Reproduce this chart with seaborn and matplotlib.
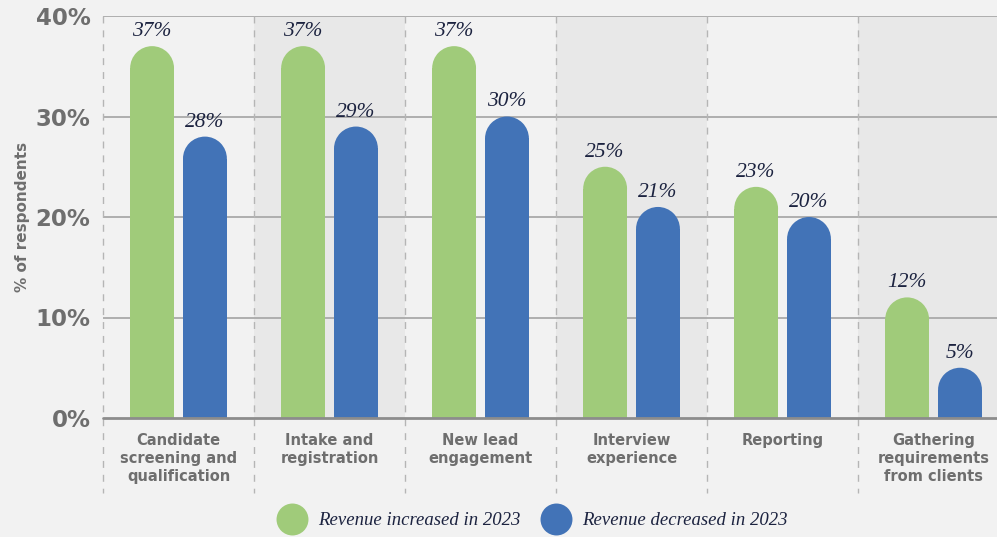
import matplotlib
matplotlib.use("Agg")
import matplotlib.pyplot as plt
import seaborn as sns
import pandas as pd
from matplotlib.patches import Ellipse
from matplotlib.lines import Line2D

categories = ["Candidate\nscreening and\nqualification", "Intake and\nregistration",
              "New lead\nengagement", "Interview\nexperience", "Reporting",
              "Gathering\nrequirements\nfrom clients"]
series_names = ["Revenue increased in 2023", "Revenue decreased in 2023"]
increased = [37, 37, 37, 25, 23, 12]
decreased = [28, 29, 30, 21, 20, 5]
y_ticks = [0, 10, 20, 30, 40]
y_tick_labels = ["0%", "10%", "20%", "30%", "40%"]

GREEN = "#a0cb7a"
BLUE = "#4273b7"
BG = "#f2f2f2"
BAND = "#e8e8e8"
GRAY_TXT = "#6e6e6e"
NAVY = "#1c2340"

df = pd.DataFrame({
    "category": categories * 2,
    "series": [series_names[0]] * len(categories) + [series_names[1]] * len(categories),
    "value": increased + decreased,
})

sns.set_theme(style="white")
plt.rcParams["font.family"] = ["DejaVu Sans"]

fig = plt.figure(figsize=(9.97, 5.37), dpi=100, facecolor=BG)
ax = fig.add_axes([103 / 997, 1 - 418 / 537, 894 / 997, 402 / 537])
ax.set_facecolor(BG)

ax.set_xlim(-0.5, 5.42)
ax.set_ylim(0, 40)

# shaded bands
for i in range(len(categories)):
    if i % 2 == 1:
        ax.axvspan(i - 0.5, i + 0.5, color=BAND, zorder=0, lw=0)

# gridlines
for t in y_ticks[1:]:
    ax.axhline(t, color="#a9a9a9", lw=1.3, zorder=1)
ax.axhline(0, color="#8c8c8c", lw=2.0, zorder=5, clip_on=False)

# dashed separators
for i in range(len(categories) + 1):
    ax.plot([i - 0.5, i - 0.5], [40, -7.5], color="#b5b5b5", lw=1.0,
            ls=(0, (5, 5)), zorder=1, clip_on=False)

sns.barplot(data=df, x="category", y="value", hue="series", order=categories,
            hue_order=series_names, palette=[GREEN, BLUE], width=0.7, gap=0.17,
            saturation=1, ax=ax, zorder=3, legend=False)
ax.set_xlim(-0.5, 5.42)
ax.set_ylim(0, 40)

# round the tops
fig.canvas.draw()
px_per_x = ax.transData.transform((1, 0))[0] - ax.transData.transform((0, 0))[0]
px_per_y = ax.transData.transform((0, 1))[1] - ax.transData.transform((0, 0))[1]
for cont, color in zip(ax.containers, [GREEN, BLUE]):
    for rect in cont:
        x = rect.get_x()
        w = rect.get_width()
        h = rect.get_height()
        ry = (w / 2) * px_per_x / px_per_y
        rect.set_height(h - ry)
        rect.set_linewidth(0)
        ax.add_patch(Ellipse((x + w / 2, h - ry), w, 2 * ry, facecolor=color,
                             edgecolor="none", zorder=3))
        ax.text(x + w / 2, h + 0.5, f"{int(round(h))}%", ha="center", va="bottom",
                fontsize=15.5, style="italic", family="Liberation Serif", color=NAVY,
                zorder=6)

ax.set_yticks(y_ticks)
ax.set_yticklabels(y_tick_labels, fontsize=16.5, fontweight="bold", color=GRAY_TXT)
ax.tick_params(axis="y", length=0, pad=9)
ax.set_xticks(range(len(categories)))
ax.set_xticklabels(categories, fontsize=10.5, fontweight="bold", color=GRAY_TXT,
                   linespacing=1.25, va="top")
ax.tick_params(axis="x", length=0, pad=11)
ax.set_xlabel("")
ax.set_ylabel("% of respondents", fontsize=11, fontweight="bold", color=GRAY_TXT,
              labelpad=4)
for s in ax.spines.values():
    s.set_visible(False)

handles = [Line2D([], [], marker="o", ls="none", markersize=23, markerfacecolor=c,
                  markeredgecolor="none") for c in [GREEN, BLUE]]
leg = fig.legend(handles, series_names, loc="center", bbox_to_anchor=(0.532, 0.03),
                 ncol=2, frameon=False, handletextpad=0.4, columnspacing=0.9,
                 prop={"family": "Liberation Serif", "style": "italic", "size": 13.5})
for t in leg.get_texts():
    t.set_color(NAVY)

fig.savefig("out.png", dpi=100, facecolor=BG)
